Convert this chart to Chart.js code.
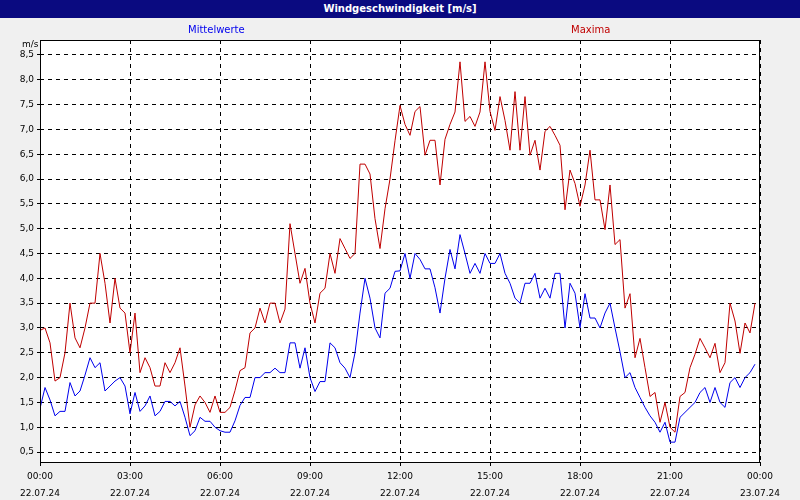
<!DOCTYPE html>
<html><head><meta charset="utf-8">
<script src="https://cdn.jsdelivr.net/npm/chart.js@4"></script>
<style>
body{margin:0;background:#f0f0f0;font-family:"DejaVu Sans",sans-serif;}
#wrap{position:relative;width:800px;height:500px;}
#hdr{position:absolute;left:0;top:0;width:800px;height:18px;background:#0a0a80;color:#fff;font:bold 10px "DejaVu Sans";text-align:center;line-height:18px;}
.lg{position:absolute;top:24px;font:10px "DejaVu Sans";}
#unit{position:absolute;left:22px;top:39px;font:9px "DejaVu Sans";}
canvas{position:absolute;left:0;top:0;}
</style></head><body>
<div id="wrap">
<canvas id="c" width="800" height="500"></canvas>
<div id="hdr">Windgeschwindigkeit [m/s]</div>
<div class="lg" style="left:188px;color:#0000ee">Mittelwerte</div>
<div class="lg" style="left:571px;color:#c00000">Maxima</div>
<div id="unit">m/s</div>
</div>
<script>
const seriesNames=["Mittelwerte","Maxima"];
const xTickTimes=["00:00","03:00","06:00","09:00","12:00","15:00","18:00","21:00","00:00"];
const xTickDates=["22.07.24","22.07.24","22.07.24","22.07.24","22.07.24","22.07.24","22.07.24","22.07.24","23.07.24"];
const yTicks=[0.5,1,1.5,2,2.5,3,3.5,4,4.5,5,5.5,6,6.5,7,7.5,8,8.5];
const maxima=[2.95,3.0,2.7,1.93,2.0,2.5,3.5,2.8,2.6,3.0,3.5,3.5,4.5,3.9,3.1,4.0,3.4,3.3,2.5,3.3,2.1,2.4,2.2,1.83,1.83,2.3,2.1,2.3,2.6,1.83,1.0,1.45,1.63,1.5,1.3,1.63,1.3,
1.3,1.4,1.74,2.14,2.2,2.9,3.0,3.4,3.1,3.5,3.5,3.1,3.38,5.1,4.5,3.9,4.2,3.5,3.1,3.7,3.8,4.5,4.1,4.8,4.6,4.4,4.5,6.3,6.3,6.1,5.2,4.6,5.4,6.0,6.77,
7.48,7.1,6.88,7.36,7.46,6.48,6.78,6.78,5.88,6.8,7.1,7.35,8.36,7.16,7.26,7.06,7.35,8.36,7.36,6.98,7.66,7.18,6.58,7.76,6.58,7.66,6.48,6.78,6.18,6.96,7.06,6.88,6.68,5.38,6.18,5.91,5.45,
5.88,6.58,5.58,5.58,4.98,5.88,4.68,4.78,3.4,3.69,2.4,2.79,2.2,1.62,1.7,1.1,1.5,1.0,0.9,1.62,1.7,2.2,2.47,2.79,2.6,2.4,2.69,2.1,2.3,3.5,3.14,2.49,3.1,2.9,3.5];
const mittel=[1.38,1.8,1.55,1.23,1.32,1.32,1.9,1.63,1.73,2.05,2.4,2.2,2.3,1.73,1.83,1.93,2.0,1.83,1.27,1.7,1.32,1.43,1.63,1.23,1.32,1.52,1.52,1.43,1.52,1.2,0.83,0.93,1.2,1.12,1.12,1.0,0.93,
0.9,0.9,1.13,1.44,1.6,1.6,2.0,2.0,2.1,2.1,2.19,2.1,2.1,2.7,2.7,2.19,2.6,2.0,1.72,1.92,1.92,2.7,2.6,2.3,2.19,2.0,2.5,3.3,4.0,3.6,3.0,2.8,3.7,3.8,4.14,
4.15,4.5,4.0,4.5,4.38,4.19,4.19,3.81,3.3,4.0,4.58,4.19,4.88,4.5,4.1,4.3,4.1,4.5,4.3,4.3,4.5,4.1,3.9,3.6,3.5,3.9,3.9,4.1,3.6,3.8,3.6,4.1,4.1,3.0,3.9,3.7,3.0,
3.69,3.2,3.2,3.0,3.3,3.5,3.0,2.52,2.0,2.1,1.8,1.6,1.4,1.23,1.1,0.9,1.1,0.7,0.7,1.2,1.3,1.4,1.5,1.7,1.8,1.5,1.8,1.5,1.4,1.9,2.0,1.8,2.0,2.1,2.27];
const pts=a=>a.map((v,i)=>({x:i,y:v}));
const bg={id:'bg',beforeDraw(c){const x=c.ctx,a=c.chartArea;x.save();x.fillStyle='#f0f0f0';x.fillRect(0,0,800,500);x.fillStyle='#fff';x.fillRect(a.left,a.top,a.right-a.left,a.bottom-a.top);x.restore();},
 afterDraw(c){const x=c.ctx,a=c.chartArea;x.save();x.strokeStyle='#000';x.lineWidth=1;x.strokeRect(a.left+0.5,a.top+0.5,a.right-a.left-1,a.bottom-a.top);x.restore();}};
new Chart(document.getElementById('c'),{type:'line',
data:{datasets:[
{label:seriesNames[0],data:pts(mittel),borderColor:'#0000ee',borderWidth:1,pointRadius:0,tension:0},
{label:seriesNames[1],data:pts(maxima),borderColor:'#c00000',borderWidth:1,pointRadius:0,tension:0}]},
options:{animation:false,responsive:false,devicePixelRatio:1,
layout:{padding:{top:40,right:40,left:0,bottom:0}},
plugins:{legend:{display:false},tooltip:{enabled:false}},
scales:{
x:{type:'linear',min:0,max:144,afterFit(s){s.height=38;},
 afterBuildTicks(s){s.ticks=xTickTimes.map((t,i)=>({value:i*18}));},
 ticks:{autoSkip:false,maxRotation:0,color:'#000',font:{family:'DejaVu Sans',size:9,lineHeight:1.9},padding:2,
  callback:(v)=>[xTickTimes[v/18],xTickDates[v/18]]},
 grid:{color:'#000',drawTicks:true,tickLength:4},border:{dash:[4,4],display:false}},
y:{min:0.3,max:8.8,afterFit(s){s.width=40;},
 afterBuildTicks(s){s.ticks=yTicks.map(v=>({value:v}));},
 ticks:{color:'#000',font:{family:'DejaVu Sans',size:9},padding:3,callback:v=>String(v.toFixed(1)).replace('.',',')},
 grid:{color:'#000',tickLength:3},border:{dash:[4,4],display:false}}
}},plugins:[bg]});
</script></body></html>
